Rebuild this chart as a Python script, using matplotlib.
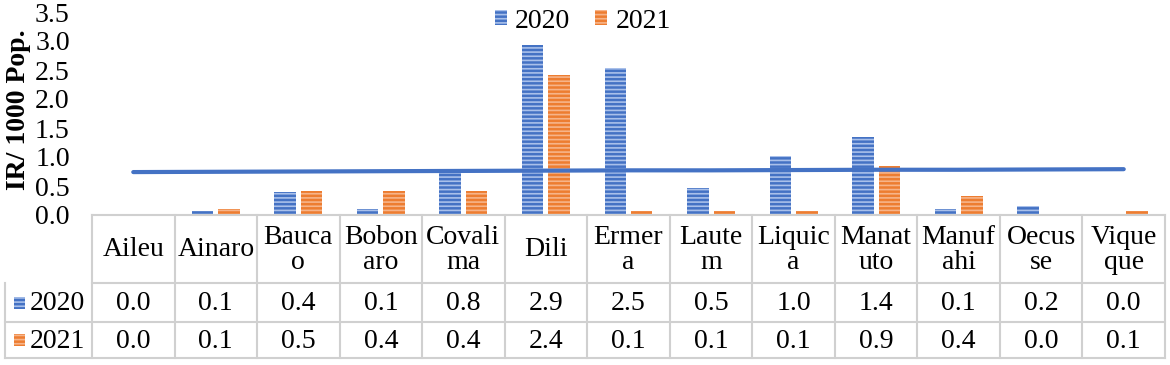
import matplotlib
matplotlib.use("Agg")
import matplotlib.pyplot as plt
import matplotlib.transforms as mtransforms
from matplotlib.patches import Patch, Rectangle
from matplotlib.lines import Line2D
import numpy as np

# data
districts = ["Aileu", "Ainaro", "Baucau", "Bobonaro", "Covalima", "Dili", "Ermera",
             "Lautem", "Liquica", "Manatuto", "Manufahi", "Oecusse", "Viqueque"]
header_labels = ["Aileu", "Ainaro", "Bauca\no", "Bobon\naro", "Covali\nma", "Dili", "Ermer\na",
                 "Laute\nm", "Liquic\na", "Manat\nuto", "Manuf\nahi", "Oecus\nse", "Vique\nque"]
ir_2020 = [0.0, 0.07, 0.40, 0.11, 0.78, 2.93, 2.53, 0.47, 1.01, 1.35, 0.10, 0.16, 0.0]
ir_2021 = [0.0, 0.10, 0.42, 0.42, 0.42, 2.41, 0.07, 0.07, 0.07, 0.85, 0.33, 0.0, 0.07]
tab_2020 = ["0.0", "0.1", "0.4", "0.1", "0.8", "2.9", "2.5", "0.5", "1.0", "1.4", "0.1", "0.2", "0.0"]
tab_2021 = ["0.0", "0.1", "0.5", "0.4", "0.4", "2.4", "0.1", "0.1", "0.1", "0.9", "0.4", "0.0", "0.1"]
avg_line = [0.74, 0.745, 0.75, 0.755, 0.76, 0.765, 0.77, 0.77, 0.775, 0.78, 0.78, 0.785, 0.79]
years = ["2020", "2021"]

BLUE = "#4472C4"
ORANGE = "#ED7D31"
BLUE_H = "#a9c0ea"
ORANGE_H = "#f6b48a"
GRID = "#d0d0d0"
FS = 20

plt.rcParams['font.family'] = ['Liberation Serif', 'DejaVu Serif']
plt.rcParams['hatch.linewidth'] = 1.2

W, H = 1170, 365
fig = plt.figure(figsize=(W / 100, H / 100), dpi=100)

# axes box in pixels
ax_l, ax_r, ax_b, ax_t = 92, 1165, 215, 12
ax = fig.add_axes([ax_l / W, 1 - ax_b / H, (ax_r - ax_l) / W, (ax_b - ax_t) / H])

x = np.arange(len(districts))
bw = 0.26
off = 0.16
ax.bar(x - off, ir_2020, bw, color=BLUE, edgecolor=BLUE_H, linewidth=0, hatch="----", zorder=2)
ax.bar(x + off, ir_2021, bw, color=ORANGE, edgecolor=ORANGE_H, linewidth=0, hatch="----", zorder=2)
ax.plot(x, avg_line, color=BLUE, lw=3, solid_capstyle="round", zorder=3)

ax.set_xlim(-0.5, len(districts) - 0.5)
ax.set_ylim(0, 3.5)
ax.set_yticks(np.arange(0, 3.51, 0.5))
ax.set_yticklabels([f"{v:.1f}" for v in np.arange(0, 3.51, 0.5)], fontsize=FS)
ax.tick_params(axis="y", length=0, pad=16)
ax.set_xticks([])
for s in ["top", "right", "left"]:
    ax.spines[s].set_visible(False)
ax.spines["bottom"].set_color(GRID)
ax.spines["bottom"].set_linewidth(1.5)
ax.set_ylabel("IR/ 1000 Pop.", fontsize=FS, fontweight="bold")
ax.yaxis.label.set_va("center")
ax.yaxis.set_label_coords((19 - ax_l) / (ax_r - ax_l), 0.52)

leg_handles = [Patch(facecolor=BLUE, edgecolor=BLUE_H, linewidth=0, hatch="----"),
               Patch(facecolor=ORANGE, edgecolor=ORANGE_H, linewidth=0, hatch="----")]
fig.legend(leg_handles, years, loc="center", bbox_to_anchor=(583 / W, 1 - 21 / H), ncol=2,
           frameon=False, fontsize=FS, handlelength=0.42, handleheight=0.42,
           handletextpad=0.3, columnspacing=0.9, borderpad=0)

# data table under the axis
tr = mtransforms.blended_transform_factory(ax.transData, fig.transFigure)
rows_px = [215, 283, 322, 358]
left_px = 5
def fy(p):
    return 1 - p / H

lc = dict(color=GRID, lw=1.5, clip_on=False)
# horizontal lines
for i, p in enumerate(rows_px):
    if i == 0:
        continue
    x0 = left_px / W if i > 1 else ax_l / W
    fig.add_artist(Line2D([x0, ax_r / W], [fy(p), fy(p)], **lc))
# vertical lines for data columns
for k in range(len(districts) + 1):
    fig.add_artist(Line2D([k - 0.5, k - 0.5], [fy(rows_px[0]), fy(rows_px[-1])], transform=tr, **lc))
# left edge of row-label column
fig.add_artist(Line2D([left_px / W, left_px / W], [fy(rows_px[1]), fy(rows_px[-1])], **lc))

for k, name in enumerate(header_labels):
    fig.text(k, fy((rows_px[0] + rows_px[1]) / 2 + 1), name, transform=tr, ha="center", va="center",
             fontsize=FS, linespacing=0.95)
    fig.text(k, fy((rows_px[1] + rows_px[2]) / 2 + 1), tab_2020[k], transform=tr, ha="center",
             va="center", fontsize=FS)
    fig.text(k, fy((rows_px[2] + rows_px[3]) / 2 + 1), tab_2021[k], transform=tr, ha="center",
             va="center", fontsize=FS)

# row labels with legend keys
for r, (yr, col, hc) in enumerate(zip(years, [BLUE, ORANGE], [BLUE_H, ORANGE_H])):
    yc = (rows_px[r + 1] + rows_px[r + 2]) / 2
    fig.add_artist(Rectangle((14 / W, fy(yc + 6)), 11 / W, 12 / H, facecolor=col,
                             edgecolor=hc, linewidth=0, hatch="----"))
    fig.text(30 / W, fy(yc + 1), yr, ha="left", va="center", fontsize=FS)

fig.savefig("out.png", dpi=100)
